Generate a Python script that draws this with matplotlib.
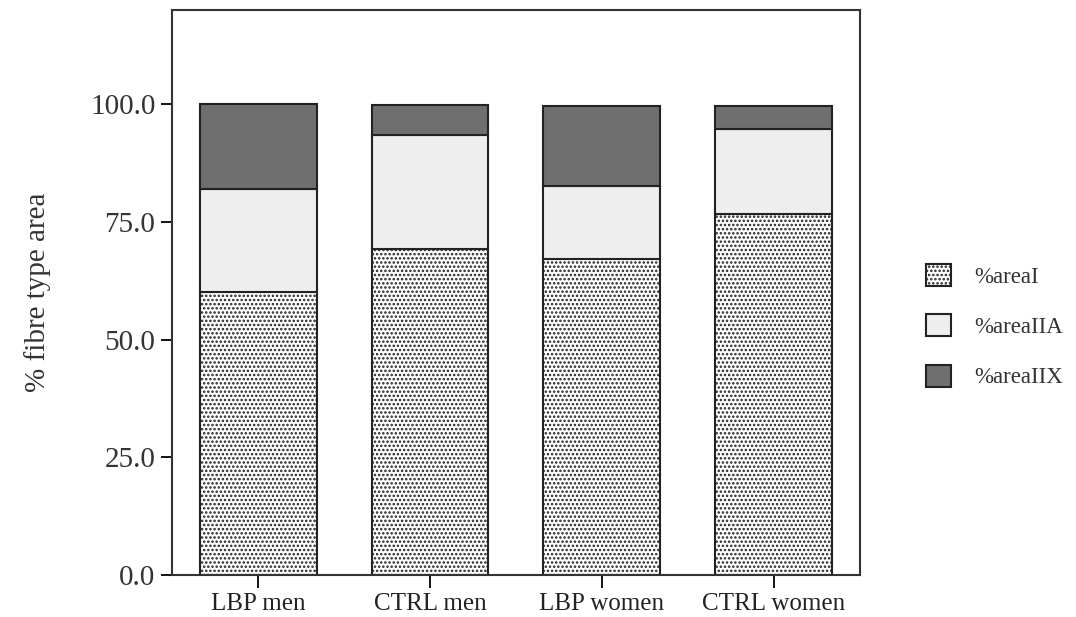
import numpy as np
import matplotlib
matplotlib.use("Agg")
import matplotlib.pyplot as plt


# =========================
# 1. 数据
# =========================

groups = ["LBP men", "CTRL men", "LBP women", "CTRL women"]

area_I = [60.0, 69.3, 67.0, 76.7]
area_IIA = [22.0, 24.1, 15.5, 18.0]
area_IIX = [18.0, 6.4, 17.1, 4.9]

series_names = ["%areaI", "%areaIIA", "%areaIIX"]

y_ticks = [0, 25, 50, 75, 100]


# =========================
# 2. 画图
# =========================

plt.rcParams["font.family"] = ["Liberation Serif", "DejaVu Serif"]
plt.rcParams["hatch.color"] = "#8a8a8a"
plt.rcParams["hatch.linewidth"] = 1.2

fig = plt.figure(figsize=(10.76, 6.17), dpi=100)
ax = fig.add_axes([0.16, 0.068, 0.639, 0.916])

x = np.arange(len(groups))
width = 0.68

bottom = np.zeros(len(groups))
styles = [
    dict(facecolor="white", hatch="...."),
    dict(facecolor="#eeeeee", hatch=None),
    dict(facecolor="#6f6f6f", hatch=None),
]

for vals, name, st in zip([area_I, area_IIA, area_IIX], series_names, styles):
    ax.bar(x, vals, width, bottom=bottom, label=name,
           edgecolor="#222222", linewidth=1.5, **st)
    bottom += np.array(vals)

ax.set_xlim(-0.5, 3.5)
ax.set_ylim(0, 120)
ax.set_yticks(y_ticks)
ax.set_yticklabels([f"{v:.1f}" for v in y_ticks], fontsize=21, color="#333333")
ax.set_xticks(x)
ax.set_xticklabels(groups, fontsize=18, color="#222222")
ax.tick_params(axis="y", length=8, width=1.3, pad=4)
ax.tick_params(axis="x", length=9, width=1.3, pad=4)

for sp in ax.spines.values():
    sp.set_linewidth(1.5)
    sp.set_color("#333333")

ax.set_ylabel("% fibre type area", fontsize=21, color="#333333", labelpad=28)

leg = ax.legend(loc="center left", bbox_to_anchor=(1.066, 0.44), frameon=False,
                fontsize=16.5, handlelength=1.1, handleheight=1.1,
                labelspacing=1.15, handletextpad=1.0)
for t in leg.get_texts():
    t.set_color("#333333")

fig.savefig("out.png", dpi=100)
